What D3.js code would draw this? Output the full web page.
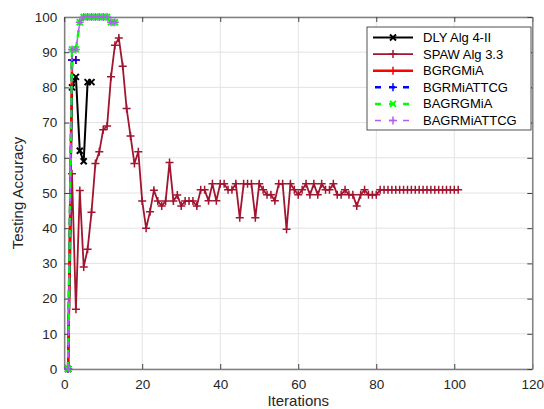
<!DOCTYPE html>
<html>
<head>
<meta charset="utf-8">
<script src="https://cdn.jsdelivr.net/npm/d3@7"></script>
<style>
  body { margin: 0; background: #fff; }
  text { font-family: "Liberation Sans", Arial, sans-serif; }
</style>
</head>
<body>
<div id="chart"></div>
<script>
// iterations start at 1 for every run
var dlyX = [1, 2, 3, 4, 5, 6, 7];
var dlyY = [0, 80, 83, 62, 59, 81.5, 81.5];

var spawY = [0, 55.5, 17, 50.7, 29, 34, 44.5, 58.4, 61.7, 68,
  69, 83, 92, 94, 86, 74, 66.2, 58.4, 61.7, 47.7,
  40, 44.7, 50.8, 47.7, 46.3, 47.7, 58.7, 47.7, 49.4, 46.3,
  47.7, 47.7, 47.7, 46.3, 50.9, 50.9, 47.8, 52.6, 47.8, 52.6,
  52.6, 50.9, 50.9, 52.6, 43, 52.6, 52.6, 52.6, 43, 52.6,
  50.9, 49.5, 49.5, 47.8, 52.6, 52.6, 39.7, 52.6, 50.9, 49.5,
  50.9, 52.6, 49.5, 52.6, 49.5, 52.6, 50.9, 50.9, 52.6, 49.5,
  49.5, 50.9, 49.5, 49.5, 46.3, 49.5, 50.9, 49.5, 49.5, 49.5,
  50.9, 50.9, 50.9, 50.9, 50.9, 50.9, 50.9, 50.9, 50.9, 50.9,
  50.9, 50.9, 50.9, 50.9, 50.9, 50.9, 50.9, 50.9, 50.9, 50.9,
  50.9];

var bgrgY = [0, 87.8, 87.8];
var bgrmY = [0, 87.8, 87.8];
var bagrgY = [0, 90.8, 90.8, 98.5, 100, 100, 100, 100, 100, 100, 100, 98.5, 98.5];
var bagrmY = [0, 90.8, 90.8, 98.5, 100, 100, 100, 100, 100, 100, 100, 98.5, 98.5];

var xTicks = [0, 20, 40, 60, 80, 100, 120];
var yTicks = [0, 10, 20, 30, 40, 50, 60, 70, 80, 90, 100];

function pts(ys, xs) {
  return ys.map(function(v, i) { return { x: xs ? xs[i] : i + 1, y: v }; });
}

var series = [
  { name: "DLY Alg 4-II", data: pts(dlyY, dlyX), color: "#000000", width: 2, dash: null, marker: "x" },
  { name: "SPAW Alg 3.3", data: pts(spawY), color: "#A2142F", width: 1.8, dash: null, marker: "+" },
  { name: "BGRGMiA", data: pts(bgrgY), color: "#FF0000", width: 2.5, dash: null, marker: "+" },
  { name: "BGRMiATTCG", data: pts(bgrmY), color: "#0000FF", width: 2.5, dash: "7,5", marker: "+" },
  { name: "BAGRGMiA", data: pts(bagrgY), color: "#00FF00", width: 2.5, dash: "7,5", marker: "x" },
  { name: "BAGRMiATTCG", data: pts(bagrmY), color: "#B45CF5", width: 1.5, dash: "6,5", marker: "+" }
];

var W = 544, H = 409;
// note: "top" is taken by window.top, so use pTop etc
var pLeft = 64.2, pRight = 532.3, pTop = 17, pBottom = 369;

var x = d3.scaleLinear().domain([0, 120]).range([pLeft, pRight]);
var y = d3.scaleLinear().domain([0, 100]).range([pBottom, pTop]);

var svg = d3.select("#chart").append("svg")
  .attr("width", W)
  .attr("height", H);

// grid
svg.append("g").selectAll("line")
  .data(xTicks).enter().append("line")
  .attr("x1", function(d) { return x(d); })
  .attr("x2", function(d) { return x(d); })
  .attr("y1", pTop).attr("y2", pBottom)
  .style("stroke", "#e3e3e3").style("stroke-width", 1);
svg.append("g").selectAll("line")
  .data(yTicks).enter().append("line")
  .attr("y1", function(d) { return y(d); })
  .attr("y2", function(d) { return y(d); })
  .attr("x1", pLeft).attr("x2", pRight)
  .style("stroke", "#e3e3e3").style("stroke-width", 1);

// axes, ticks inward like matlab
var tickLen = 5;
var xAxis = d3.axisBottom(x).tickValues(xTicks).tickSizeInner(-tickLen).tickSizeOuter(0).tickPadding(10);
var yAxis = d3.axisLeft(y).tickValues(yTicks).tickSizeInner(-tickLen).tickSizeOuter(0).tickPadding(7);
var xTop = d3.axisTop(x).tickValues(xTicks).tickSizeInner(-tickLen).tickSizeOuter(0).tickFormat("");
var yRight = d3.axisRight(y).tickValues(yTicks).tickSizeInner(-tickLen).tickSizeOuter(0).tickFormat("");

var gx = svg.append("g").attr("transform", "translate(0," + pBottom + ")").call(xAxis);
var gy = svg.append("g").attr("transform", "translate(" + pLeft + ",0)").call(yAxis);
var gt = svg.append("g").attr("transform", "translate(0," + pTop + ")").call(xTop);
var gr = svg.append("g").attr("transform", "translate(" + pRight + ",0)").call(yRight);

[gx, gy, gt, gr].forEach(function(g) {
  g.select(".domain").style("stroke", "#808080").style("stroke-width", 1.5);
  g.selectAll(".tick line").style("stroke", "#404040").style("stroke-width", 1);
  g.selectAll(".tick text").style("font-size", "13.5px").style("fill", "#262626")
    .style("font-family", "'Liberation Sans', Arial, sans-serif");
});

svg.append("text")
  .attr("x", (pLeft + pRight) / 2).attr("y", 406)
  .attr("text-anchor", "middle")
  .style("font-size", "15px").style("fill", "#262626")
  .text("Iterations");

svg.append("text")
  .attr("transform", "translate(23," + ((pTop + pBottom) / 2) + ") rotate(-90)")
  .attr("text-anchor", "middle")
  .style("font-size", "15px").style("fill", "#262626")
  .text("Testing Accuracy");

function markerPath(type, s) {
  if (type === "x") return "M" + (-s) + "," + (-s) + "L" + s + "," + s + "M" + (-s) + "," + s + "L" + s + "," + (-s);
  return "M" + (-s) + ",0L" + s + ",0M0," + (-s) + "L0," + s;
}

var line = d3.line()
  .x(function(d) { return x(d.x); })
  .y(function(d) { return y(d.y); });

var plot = svg.append("g");

series.forEach(function(s) {
  plot.append("path")
    .datum(s.data)
    .attr("d", line)
    .style("fill", "none")
    .style("stroke", s.color)
    .style("stroke-width", s.width)
    .style("stroke-dasharray", s.dash);
  plot.selectAll(null)
    .data(s.data).enter().append("path")
    .attr("transform", function(d) { return "translate(" + x(d.x) + "," + y(d.y) + ")"; })
    .attr("d", markerPath(s.marker, s.marker === "x" ? 3 : 4))
    .style("fill", "none")
    .style("stroke", s.color)
    .style("stroke-width", s.marker === "x" ? 2 : 1.5);
});

// legend
var lg = svg.append("g").attr("transform", "translate(367,27)");
lg.append("rect")
  .attr("width", 164).attr("height", 103)
  .style("fill", "#fff").style("stroke", "#262626").style("stroke-width", 0.8);

var rows = lg.selectAll("g")
  .data(series).enter().append("g")
  .attr("transform", function(d, i) { return "translate(0," + (10.5 + i * 16.6) + ")"; });

rows.append("line")
  .attr("x1", 6).attr("x2", 46)
  .style("stroke", function(d) { return d.color; })
  .style("stroke-width", function(d) { return d.width; })
  .style("stroke-dasharray", function(d) { return d.dash ? "6,8" : null; })
  .style("stroke-dashoffset", function(d) { return d.dash ? -2 : 0; });
rows.append("path")
  .attr("transform", "translate(26,0)")
  .attr("d", function(d) { return markerPath(d.marker, d.marker === "x" ? 3 : 4); })
  .style("fill", "none")
  .style("stroke", function(d) { return d.color; })
  .style("stroke-width", function(d) { return d.marker === "x" ? 2 : 1.5; });
rows.append("text")
  .attr("x", 56).attr("y", 4.5)
  .style("font-size", "13px").style("fill", "#000")
  .text(function(d) { return d.name; });
</script>
</body>
</html>
